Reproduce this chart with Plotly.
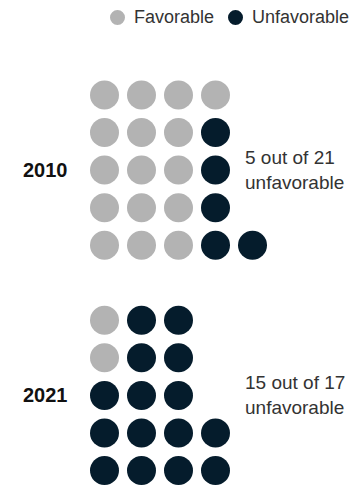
import plotly.graph_objects as go

# Data
years = ["2010", "2021"]
favorable_rows = {"2010": [4, 3, 3, 3, 3], "2021": [1, 1, 0, 0, 0]}
unfavorable_rows = {"2010": [0, 1, 1, 1, 2], "2021": [2, 2, 3, 4, 4]}
summary = {"2010": "5 out of 21<br>unfavorable", "2021": "15 out of 17<br>unfavorable"}
legend_labels = ["Favorable", "Unfavorable"]

FAV_COLOR = "#b3b3b3"
UNFAV_COLOR = "#051c2c"
W, H = 352, 494

fav_x, fav_y, unf_x, unf_y = [], [], [], []
group_center = {}
for g, year in enumerate(years):
    base = g * 6
    group_center[year] = base + 2
    for r, (nf, nu) in enumerate(zip(favorable_rows[year], unfavorable_rows[year])):
        row = base + r
        for c in range(nf):
            fav_x.append(c)
            fav_y.append(row)
        for c in range(nu):
            unf_x.append(nf + c)
            unf_y.append(row)

fig = go.Figure()
fig.add_trace(go.Scatter(x=fav_x, y=fav_y, mode="markers", name=legend_labels[0],
                         marker=dict(size=29, color=FAV_COLOR), hoverinfo="skip"))
fig.add_trace(go.Scatter(x=unf_x, y=unf_y, mode="markers", name=legend_labels[1],
                         marker=dict(size=29, color=UNFAV_COLOR), hoverinfo="skip"))

for year in years:
    fig.add_annotation(x=-1.6, y=group_center[year], text="<b>" + year + "</b>",
                       showarrow=False, xanchor="center", yanchor="middle",
                       font=dict(size=20, color="#111111"))
    fig.add_annotation(x=3.75, y=group_center[year], text=summary[year],
                       showarrow=False, xanchor="left", yanchor="middle", align="left",
                       font=dict(size=19, color="#333333"))

# Manual legend (dots + labels) placed at the top right
legend_dot_px = [117.5, 235.5]
legend_y = 1 - 17.5 / H
for label, color, px in zip(legend_labels, [FAV_COLOR, UNFAV_COLOR], legend_dot_px):
    fig.add_shape(type="circle", xref="paper", yref="paper",
                  xsizemode="pixel", ysizemode="pixel",
                  xanchor=px / W, yanchor=legend_y,
                  x0=-7.5, x1=7.5, y0=-7.5, y1=7.5,
                  fillcolor=color, line=dict(width=0))
    fig.add_annotation(xref="paper", yref="paper", x=(px + 14.5) / W, y=legend_y,
                       text=label, showarrow=False, xanchor="left", yanchor="middle",
                       font=dict(size=18, color="#333333"))

sx = 37.0
sy = 37.55
x0 = 104.5
y0 = 95.0
fig.update_layout(
    width=W, height=H,
    margin=dict(l=0, r=0, t=0, b=0, autoexpand=False),
    paper_bgcolor="white", plot_bgcolor="white",
    font=dict(family="Liberation Sans, Arial, Helvetica, sans-serif", size=18, color="#333333"),
    xaxis=dict(range=[-x0 / sx, (W - x0) / sx], visible=False, fixedrange=True),
    yaxis=dict(range=[(H - y0) / sy, -y0 / sy], visible=False, fixedrange=True),
    showlegend=False,
)

fig.write_html("out.html", config={"displayModeBar": False},
               post_script="document.body.style.margin='0';")
